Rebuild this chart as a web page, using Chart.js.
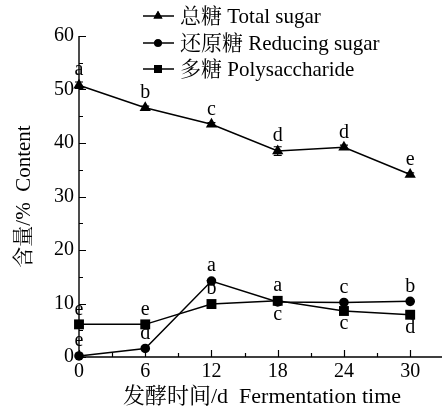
<!DOCTYPE html>
<html>
<head>
<meta charset="utf-8">
<script src="https://cdn.jsdelivr.net/npm/chart.js@4.4.1/dist/chart.umd.min.js"></script>
<style>
  html, body { margin: 0; padding: 0; background: #fff; }
  #wrap { width: 443px; height: 408px; }
</style>
</head>
<body>
<div id="wrap"><canvas id="c" width="443" height="408"></canvas></div>
<script>
// Fermentation time (days)
const days = [0, 6, 12, 18, 24, 30];
const xTicks = [0, 6, 12, 18, 24, 30];
const yTicks = [0, 10, 20, 30, 40, 50, 60];

// Content (%)
const totalSugar = [50.8, 46.6, 43.5, 38.5, 39.2, 34.1];
const reducingSugar = [0.2, 1.6, 14.2, 10.3, 10.2, 10.4];
const polysaccharide = [6.1, 6.1, 9.9, 10.5, 8.6, 7.9];

// Standard deviations
const totalErr = [0.6, 0.3, 0.3, 0.8, 0.4, 0.3];
const reducingErr = [0.1, 0.2, 0.3, 0.3, 0.2, 0.2];
const polyErr = [0.2, 0.2, 0.2, 0.3, 0.3, 0.3];

// Significance letters and where they sit relative to the point
const totalLetters = ['a', 'b', 'c', 'd', 'd', 'e'];
const totalLetterPos = ['up', 'up', 'up', 'up', 'up', 'up'];
const reducingLetters = ['e', 'd', 'a', 'c', 'c', 'b'];
const reducingLetterPos = ['up', 'up', 'up', 'down', 'up', 'up'];
const polyLetters = ['e', 'e', 'b', 'a', 'c', 'd'];
const polyLetterPos = ['up', 'up', 'up', 'up', 'down', 'down'];

const seriesNames = ['总糖 Total sugar', '还原糖 Reducing sugar', '多糖 Polysaccharide'];
const xTitle = '发酵时间/d  Fermentation time';
const yTitle = '含量/%  Content';

const FONT = "'Liberation Serif', 'Times New Roman', 'Noto Serif CJK SC', 'Noto Sans CJK SC', serif";

function pts(vals) { return days.map((d, i) => ({ x: d, y: vals[i] })); }

function makeSet(label, vals, style, radius, err, letters, pos) {
  return {
    label, data: pts(vals), pointStyle: style, pointRadius: radius,
    borderColor: '#000', backgroundColor: '#000', borderWidth: 1.5,
    pointBorderWidth: 0, pointBackgroundColor: '#000',
    tension: 0, clip: false,
    errors: err, letters, letterPos: pos
  };
}

const datasets = [
  makeSet(seriesNames[0], totalSugar, 'triangle', 6.5, totalErr, totalLetters, totalLetterPos),
  makeSet(seriesNames[1], reducingSugar, 'circle', 4.8, reducingErr, reducingLetters, reducingLetterPos),
  makeSet(seriesNames[2], polysaccharide, 'rect', 7, polyErr, polyLetters, polyLetterPos)
];

// Error bars, letters, inward ticks, axis titles and the legend
const decor = {
  id: 'decor',
  beforeDatasetsDraw(chart) {
    const ctx = chart.ctx;
    const xs = chart.scales.x, ys = chart.scales.y;
    ctx.save();
    ctx.strokeStyle = '#000';
    ctx.lineWidth = 1.2;
    chart.data.datasets.forEach(ds => {
      ds.data.forEach((p, i) => {
        const e = ds.errors[i];
        const px = xs.getPixelForValue(p.x);
        const y1 = ys.getPixelForValue(p.y + e), y2 = ys.getPixelForValue(p.y - e);
        ctx.beginPath();
        ctx.moveTo(px, y1); ctx.lineTo(px, y2);
        ctx.moveTo(px - 4, y1); ctx.lineTo(px + 4, y1);
        ctx.moveTo(px - 4, y2); ctx.lineTo(px + 4, y2);
        ctx.stroke();
      });
    });
    ctx.restore();
  },
  afterDraw(chart) {
    const ctx = chart.ctx;
    const xs = chart.scales.x, ys = chart.scales.y;
    const a = chart.chartArea;
    ctx.save();
    ctx.strokeStyle = '#000';
    ctx.fillStyle = '#000';
    ctx.lineWidth = 1.4;

    // axis lines (the bottom axis runs to the canvas edge)
    ctx.beginPath();
    ctx.moveTo(a.left, a.top); ctx.lineTo(a.left, a.bottom); ctx.lineTo(chart.width - 1, a.bottom);
    ctx.stroke();

    // inward ticks (major + minor)
    ctx.lineWidth = 1.2;
    ctx.beginPath();
    for (let v = 0; v <= 60; v += 5) {
      const py = Math.round(ys.getPixelForValue(v)) + 0.5;
      const len = v % 10 === 0 ? 7 : 4;
      ctx.moveTo(a.left, py); ctx.lineTo(a.left + len, py);
    }
    for (let v = 0; v <= 30; v += 3) {
      const px = Math.round(xs.getPixelForValue(v)) + 0.5;
      const len = v % 6 === 0 ? 7 : 4;
      ctx.moveTo(px, a.bottom); ctx.lineTo(px, a.bottom - len);
    }
    ctx.stroke();

    // significance letters
    ctx.font = '20px ' + FONT;
    ctx.textAlign = 'center';
    ctx.textBaseline = 'middle';
    chart.data.datasets.forEach((ds, di) => {
      const meta = chart.getDatasetMeta(di);
      meta.data.forEach((el, i) => {
        const off = ds.letterPos[i] === 'up' ? -15 : 13;
        ctx.fillText(ds.letters[i], el.x, el.y + off);
      });
    });

    // axis titles
    ctx.font = '22px ' + FONT;
    ctx.textAlign = 'center';
    ctx.textBaseline = 'middle';
    ctx.fillText(xTitle, 262, 397);
    ctx.font = '21px ' + FONT;
    ctx.save();
    ctx.translate(24, (a.top + a.bottom) / 2);
    ctx.rotate(-Math.PI / 2);
    ctx.fillText(yTitle, 0, 0);
    ctx.restore();

    // legend
    const rows = [16, 43, 69];
    ctx.font = '21px ' + FONT;
    ctx.textAlign = 'left';
    chart.data.datasets.forEach((ds, di) => {
      const y = rows[di];
      ctx.lineWidth = 1.5;
      ctx.beginPath();
      ctx.moveTo(143, y); ctx.lineTo(174, y);
      ctx.stroke();
      Chart.helpers.drawPoint(ctx, { pointStyle: ds.pointStyle, radius: ds.pointRadius * 0.8, borderWidth: 0 }, 158, y);
      ctx.fill();
      ctx.fillText(ds.label, 180, y + 1);
    });
    ctx.restore();
  }
};

new Chart(document.getElementById('c'), {
  type: 'line',
  data: { datasets },
  options: {
    responsive: false,
    animation: false,
    devicePixelRatio: 1,
    layout: { padding: { top: 36, right: 1, left: 0, bottom: 0 } },
    plugins: { legend: { display: false }, tooltip: { enabled: false } },
    scales: {
      x: {
        type: 'linear', min: 0, max: 32.34,
        grid: { display: false, drawTicks: false },
        border: { display: false },
        afterBuildTicks: s => { s.ticks = xTicks.map(v => ({ value: v })); },
        afterFit: s => { s.height = 51; s.paddingLeft = 0; s.paddingRight = 0; },
        ticks: { color: '#000', padding: 3, maxRotation: 0, font: { family: FONT, size: 20 } }
      },
      y: {
        type: 'linear', min: 0, max: 60,
        grid: { display: false, drawTicks: false },
        border: { display: false },
        afterBuildTicks: s => { s.ticks = yTicks.map(v => ({ value: v })); },
        afterFit: s => { s.width = 79; s.paddingTop = 0; s.paddingBottom = 0; },
        ticks: { color: '#000', padding: 5, font: { family: FONT, size: 20 } }
      }
    }
  },
  plugins: [decor]
});
</script>
</body>
</html>
